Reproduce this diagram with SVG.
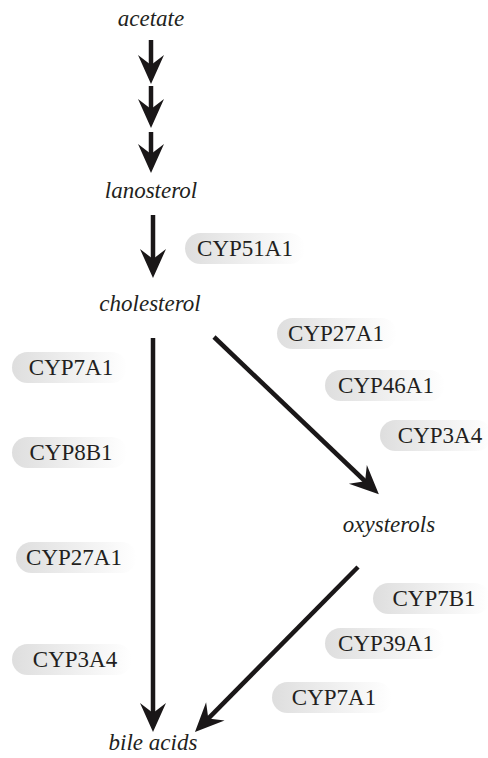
<svg xmlns="http://www.w3.org/2000/svg" width="488" height="758" viewBox="0 0 488 758">
<defs>
<linearGradient id="pg" x1="0" y1="0" x2="1" y2="0">
<stop offset="0" stop-color="#dedede"/>
<stop offset="0.6" stop-color="#f2f2f2"/>
<stop offset="1" stop-color="#ffffff"/>
</linearGradient>
<marker id="ah" markerUnits="userSpaceOnUse" markerWidth="40" markerHeight="40" viewBox="-20 -20 40 40" refX="0" refY="0" orient="auto" overflow="visible">
<path d="M15,0 L-14,-13 L-4,0 L-14,13 Z" fill="#1a1718"/>
</marker>
<style>
.m{font-family:"Liberation Serif","Times New Roman",serif;font-style:italic;font-size:23px;fill:#231f20;text-anchor:middle}
.e{font-family:"Liberation Serif","Times New Roman",serif;font-size:23px;fill:#231f20;text-anchor:middle}
.p{fill:url(#pg)}
.c{fill:none;stroke:#1a1718;stroke-width:4.5;marker-end:url(#ah)}
</style>
</defs>
<rect width="488" height="758" fill="#ffffff"/>
<g id="connectors">
<path class="c" d="M151,40 V69"/>
<path class="c" d="M151,86 V113"/>
<path class="c" d="M151,132 V158"/>
<path class="c" d="M153,215 V263"/>
<path class="c" d="M153,338 V717"/>
<path class="c" d="M214,337 L368,484"/>
<path class="c" d="M358,567 L205.5,721.3"/>
</g>
<g id="acetate"><text class="m" x="151" y="26">acetate</text></g>
<g id="lanosterol"><text class="m" x="151" y="198">lanosterol</text></g>
<g id="cholesterol"><text class="m" x="150" y="311">cholesterol</text></g>
<g id="oxysterols"><text class="m" x="389" y="532">oxysterols</text></g>
<g id="bile-acids"><text class="m" x="153" y="750">bile acids</text></g>
<g id="cyp51a1"><rect class="p" x="185" y="233" width="120" height="31" rx="15.5"/><text class="e" x="245" y="256">CYP51A1</text></g>
<g id="cyp27a1-r"><rect class="p" x="277" y="318" width="120" height="31" rx="15.5"/><text class="e" x="336" y="341">CYP27A1</text></g>
<g id="cyp46a1"><rect class="p" x="325" y="370" width="120" height="31" rx="15.5"/><text class="e" x="386" y="393">CYP46A1</text></g>
<g id="cyp3a4-r"><rect class="p" x="380" y="420" width="112" height="31" rx="15.5"/><text class="e" x="440" y="443">CYP3A4</text></g>
<g id="cyp7a1-l"><rect class="p" x="12" y="352" width="115" height="31" rx="15.5"/><text class="e" x="71" y="375">CYP7A1</text></g>
<g id="cyp8b1"><rect class="p" x="12" y="437" width="115" height="31" rx="15.5"/><text class="e" x="71" y="460">CYP8B1</text></g>
<g id="cyp27a1-l"><rect class="p" x="16" y="542" width="121" height="31" rx="15.5"/><text class="e" x="74" y="565">CYP27A1</text></g>
<g id="cyp3a4-l"><rect class="p" x="12" y="644" width="120" height="31" rx="15.5"/><text class="e" x="75" y="667">CYP3A4</text></g>
<g id="cyp7b1"><rect class="p" x="373" y="583" width="117" height="31" rx="15.5"/><text class="e" x="434" y="606">CYP7B1</text></g>
<g id="cyp39a1"><rect class="p" x="325" y="628" width="120" height="31" rx="15.5"/><text class="e" x="386" y="651">CYP39A1</text></g>
<g id="cyp7a1-r"><rect class="p" x="272" y="682" width="120" height="31" rx="15.5"/><text class="e" x="334" y="705">CYP7A1</text></g>
</svg>
